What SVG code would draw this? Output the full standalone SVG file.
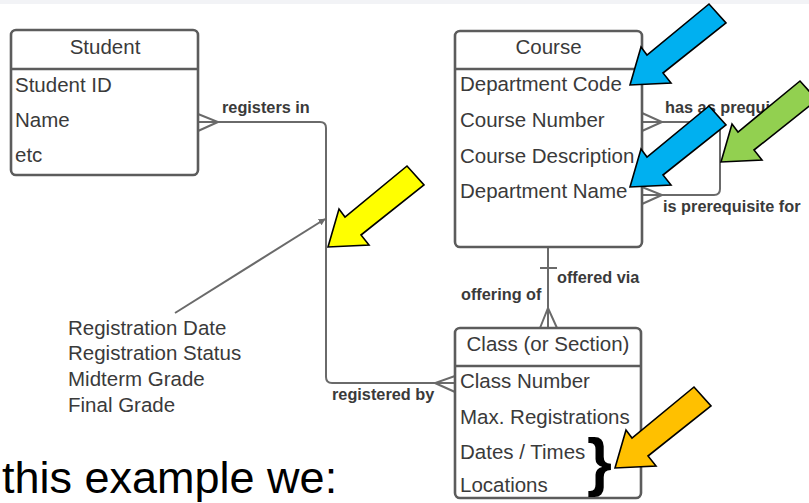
<svg xmlns="http://www.w3.org/2000/svg" width="809" height="503" viewBox="0 0 809 503">
<style>
.box{fill:#fff;stroke:#5c5c5c;stroke-width:2.6}
.sep{stroke:#5c5c5c;stroke-width:2.6}
.t{font-family:"Liberation Sans",Arial,sans-serif;font-size:20.5px;fill:#3a3a3a}
.h{text-anchor:middle}
.lbl{font-family:"Liberation Sans",Arial,sans-serif;font-size:16.3px;font-weight:bold;fill:#3a3a3a}
.con{fill:none;stroke:#6a6a6a;stroke-width:2}
.big{font-family:"Liberation Sans",Arial,sans-serif;font-size:45px;fill:#000}
.blk{stroke:#000;stroke-width:1.6;stroke-linejoin:miter}
</style>
<defs>
<marker id="ah" viewBox="0 0 10 10" refX="9" refY="5" markerWidth="7" markerHeight="7" markerUnits="userSpaceOnUse" orient="auto">
<path d="M0,0 L10,5 L0,10 z" fill="#6a6a6a"/>
</marker>
<path id="barrow" d="M0,0 L11,-38 L17,-30 L79,-81 L96,-62 L33,-12 L41,-2 Z"/>
</defs>
<rect x="0" y="0" width="809" height="503" fill="#fff"/>
<rect x="0" y="0" width="809" height="4" fill="#f2f3f6"/>

<g id="connectors">
<path class="con" d="M198,122 H320 Q326,122 326,128 V377 Q326,383 332,383 H455"/>
<path class="con" d="M198,114 L218,122 L198,131"/>
<path class="con" d="M455,376 L435,383 L455,392"/>
<path class="con" d="M642,122 H714 Q720,122 720,128 V189 Q720,195 714,195 H642"/>
<path class="con" d="M642,113 L662,122 L642,131"/>
<path class="con" d="M642,187 L662,195 L642,204"/>
<path class="con" d="M548,247 V328"/>
<path class="con" d="M540,268 H557"/>
<path class="con" d="M540,328 L548,308 L557,328"/>
<path class="con" d="M175,313 L325,219" marker-end="url(#ah)"/>
<text class="lbl" x="222" y="113">registers in</text>
<text class="lbl" x="332" y="400">registered by</text>
<text class="lbl" x="665" y="113">has as prequi</text>
<text class="lbl" x="663" y="212">is prerequisite for</text>
<text class="lbl" x="557" y="283">offered via</text>
<text class="lbl" x="461" y="300">offering of</text>
</g>

<g id="student">
<rect class="box" x="11" y="30" width="187" height="145" rx="5"/>
<line class="sep" x1="11" y1="69" x2="198" y2="69"/>
<text class="t h" x="105" y="54">Student</text>
<text class="t" x="15" y="92">Student ID</text>
<text class="t" x="15" y="127">Name</text>
<text class="t" x="15" y="162">etc</text>
</g>

<g id="course">
<rect class="box" x="455" y="31" width="187" height="216" rx="5"/>
<line class="sep" x1="455" y1="69" x2="642" y2="69"/>
<text class="t h" x="548.5" y="54">Course</text>
<text class="t" x="460" y="91">Department Code</text>
<text class="t" x="460" y="127">Course Number</text>
<text class="t" x="460" y="163">Course Description</text>
<text class="t" x="460" y="198">Department Name</text>
</g>

<g id="class">
<rect class="box" x="455" y="328" width="186" height="170" rx="5"/>
<line class="sep" x1="455" y1="366" x2="641" y2="366"/>
<text class="t h" x="548" y="351">Class (or Section)</text>
<text class="t" x="460" y="388">Class Number</text>
<text class="t" x="460" y="424">Max. Registrations</text>
<text class="t" x="460" y="459">Dates / Times</text>
<text class="t" x="460" y="492">Locations</text>
</g>

<g id="annotation">
<text class="t" x="68" y="335">Registration Date</text>
<text class="t" x="68" y="360">Registration Status</text>
<text class="t" x="68" y="386">Midterm Grade</text>
<text class="t" x="68" y="412">Final Grade</text>
</g>

<text x="587" y="484" font-family="Liberation Sans, Arial, sans-serif" font-size="64" font-weight="bold" fill="#000">}</text>
<text class="big" x="2" y="493">this example we:</text>

<g id="highlights">
<use href="#barrow" transform="translate(630,85)" fill="#00b0f0" class="blk"/>
<use href="#barrow" transform="translate(630,187)" fill="#00b0f0" class="blk"/>
<use href="#barrow" transform="translate(721,162)" fill="#92d050" class="blk"/>
<use href="#barrow" transform="translate(328,247)" fill="#ffff00" class="blk"/>
<use href="#barrow" transform="translate(615,468)" fill="#ffc000" class="blk"/>
</g>
</svg>
